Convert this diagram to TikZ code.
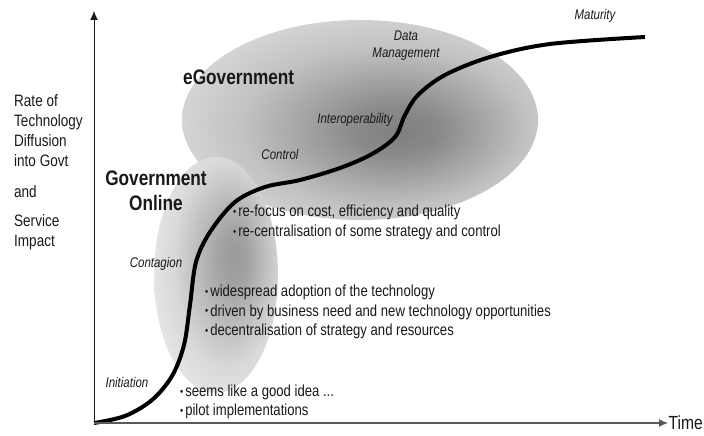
\documentclass[tikz,border=0pt]{standalone}
\usepackage{fontspec}
\setmainfont{Liberation Sans}[FakeStretch=0.82]
\usetikzlibrary{arrows.meta,positioning}
\pgfdeclareradialshading{egovshade}{\pgfpoint{6bp}{-3bp}}{color(0bp)=(black!50); color(6bp)=(black!46); color(20bp)=(black!24); color(32bp)=(black!13); color(50bp)=(black!11)}
\pgfdeclareradialshading{onlineshade}{\pgfpoint{8bp}{4bp}}{color(0bp)=(black!40); color(6bp)=(black!36); color(22bp)=(black!15); color(34bp)=(black!7); color(50bp)=(black!6)}
\tikzset
{
    yaxis/.style     = {-{Latex[length=9pt, width=8pt]}, line width=1pt, black!90},
    xaxis/.style     = {-{Latex[length=9pt, width=8pt]}, line width=1.3pt, black!65},
    scurve/.style    = {line width=4pt, black},
    axislabel/.style = {font=\fontsize{16.5}{20}\selectfont, align=left, text=black!90, inner sep=0pt},
    phase/.style     = {font=\fontsize{21}{25}\selectfont\bfseries, align=center, text=black!90, inner sep=0pt},
    stage/.style     = {font=\fontsize{14}{17}\selectfont\itshape, align=center, text=black!90, inner sep=0pt},
    bullets/.style   = {font=\fontsize{16}{19.5}\selectfont, align=left, anchor=west, text=black!90, inner sep=0pt}
}
\newcommand\bul{\raisebox{0.08em}{\fontsize{11}{11}\selectfont\textbullet}\hspace{0.12em}}

\begin{document}
\begin{tikzpicture}[x=1pt, y=-1pt]

	\useasboundingbox (0,0) rectangle (704,436);

	\path[shading=egovshade]   (360,120) ellipse (178 and 100);
	\path[shading=onlineshade] (216,275) ellipse (62 and 118);

	\coordinate (o)    at (94,423);
	\coordinate (ytop) at (94,11);
	\coordinate (xend) at (668,423);

	\draw[scurve] plot[smooth, tension=0.55] coordinates {(94,423) (125,416) (152,400) (172,376) (184,345) (190,305) (196,262) (210,232) (235,202) (265,187) (300,180) (340,168) (372,154) (395,137) (405,115) (418,95) (445,75) (490,57) (550,44) (645,37)};

	\node (ylab)  [axislabel, anchor=west]  at (14,131)   {Rate of\\Technology\\Diffusion\\into Govt};
	\node (yand)  [axislabel, anchor=west]  at (14,192)   {and};
	\node (yimp)  [axislabel, anchor=west]  at (14,232)   {Service\\Impact};
	\node (time)  [axislabel, right=0.5pt of xend]          {\fontsize{19}{22}\selectfont Time};

	\node (egov)  [phase, anchor=west]      at (183,77)    {eGovernment};
	\node (gonl)  [phase]                   at (156,190.5) {Government\\Online};

	\node (init)  [stage]                   at (127,382)   {Initiation};
	\node (cont)  [stage]                   at (156,264)   {Contagion};
	\node (ctrl)  [stage]                   at (280,154)   {Control};
	\node (inter) [stage]                   at (355,120)   {Interoperability};
	\node (data)  [stage]                   at (406,46)    {Data\\Management};
	\node (mat)   [stage]                   at (595,16)    {Maturity};

	\node (lsta)  [bullets]                 at (233,222.5) {\bul re-focus on cost, efficiency and quality\\\bul re-centralisation of some strategy and control};
	\node (lstb)  [bullets]                 at (205,312)   {\bul widespread adoption of the technology\\\bul driven by business need and new technology opportunities\\\bul decentralisation of strategy and resources};
	\node (lstc)  [bullets]                 at (180,402)   {\bul seems like a good idea ...\\\bul pilot implementations};

	\path
		(o)     edge[yaxis]  (ytop)
		(o)     edge[xaxis]  (xend);

\end{tikzpicture}
\end{document}
